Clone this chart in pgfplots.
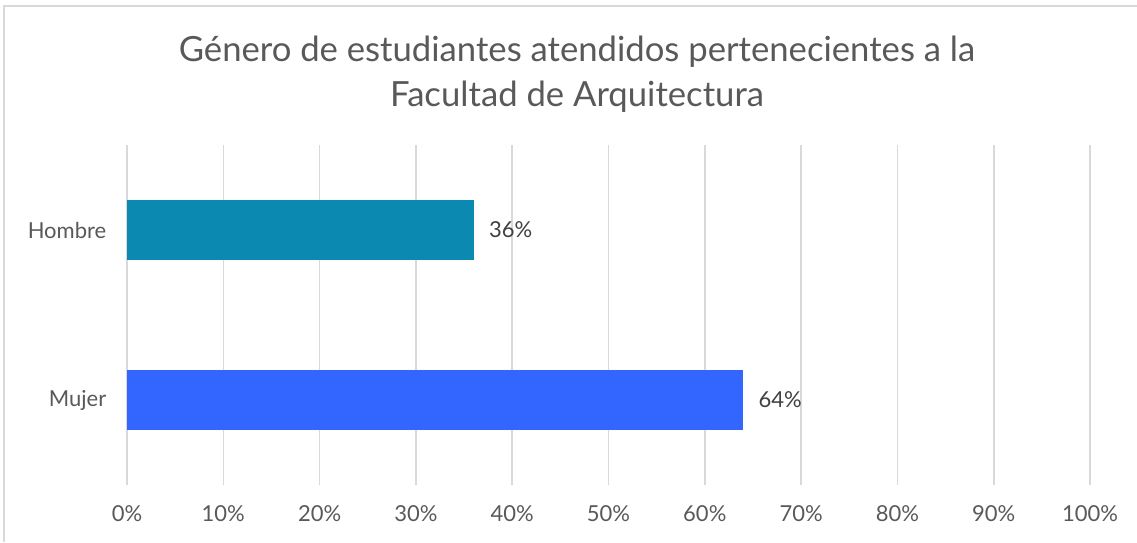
\documentclass[border=0pt]{standalone}
\usepackage{pgfplots}
\pgfplotsset{compat=1.18}
\usepackage{fontspec}
\setmainfont{Lato}
\definecolor{txt}{HTML}{595959}
\definecolor{lbl}{HTML}{404040}
\definecolor{gridc}{HTML}{D9D9D9}
\definecolor{hombre}{HTML}{0B89B1}
\definecolor{mujer}{HTML}{3366FF}
\begin{document}
\begin{tikzpicture}[x=1pt,y=1pt]
% bounding box: 1px = 0.75pt, axis SW at (127px, 57px from bottom)
\path[use as bounding box] (-95.25,-42.75) rectangle (757.5,363.75);
\draw[gridc, line width=1.2pt] (-92.25,-42.75) -- (-92.25,359.25) -- (757.5,359.25);
\begin{axis}[
  at={(0,0)}, anchor=south west,
  scale only axis, width=722.25pt, height=255pt,
  xmin=0, xmax=100, ymin=-0.5, ymax=1.5,
  xbar, bar width=45pt,
  xtick={0,10,...,100},
  /pgf/number format/assume math mode=true,
  xticklabel={\pgfmathprintnumber{\tick}\%},
  ytick={0,1}, yticklabels={Mujer,Hombre},
  axis line style={draw=none},
  major tick length=0pt,
  xmajorgrids, major grid style={gridc, line width=1.2pt},
  ticklabel style={font=\fontsize{16.5}{19}\selectfont, text=txt},
  xticklabel style={yshift=-12pt},
  yticklabel style={xshift=-12pt},
  nodes near coords={\pgfmathprintnumber{\pgfplotspointmeta}\%},
  every node near coord/.append style={font=\fontsize{16.5}{19}\selectfont, text=lbl, anchor=west, xshift=8pt},
  point meta=x,
]
\addplot[fill=hombre, draw=none, bar shift=0pt] coordinates {(36,1)};
\addplot[fill=mujer, draw=none, bar shift=0pt] coordinates {(64,0)};
\end{axis}
\node[anchor=base, text=txt, font=\fontsize{26}{31}\selectfont] at (337.5,317.25) {Género de estudiantes atendidos pertenecientes a la};
\node[anchor=base, text=txt, font=\fontsize{26}{31}\selectfont] at (337.5,283.5) {Facultad de Arquitectura};
\end{tikzpicture}
\end{document}
